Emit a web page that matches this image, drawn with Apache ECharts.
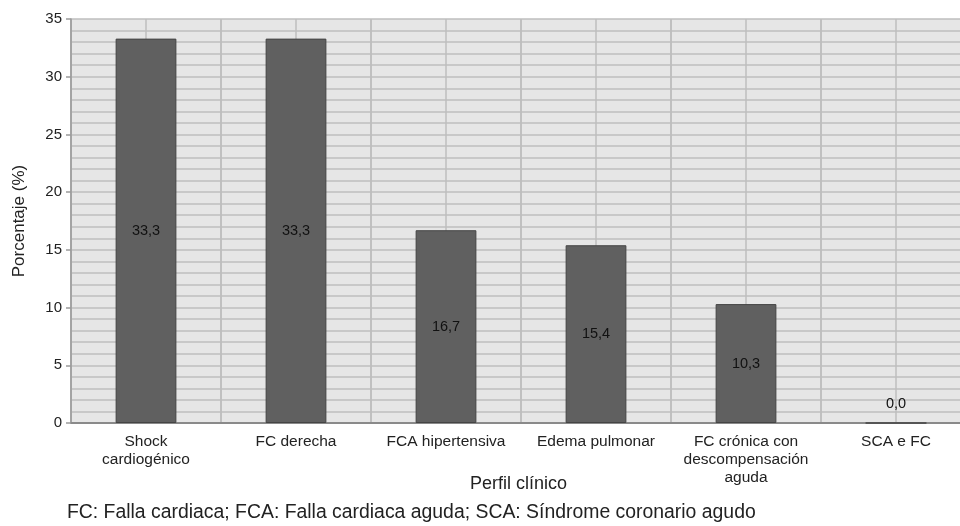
<!DOCTYPE html>
<html>
<head>
<meta charset="utf-8">
<script src="https://cdn.jsdelivr.net/npm/echarts@6/dist/echarts.min.js"></script>
<style>
  html, body { margin: 0; padding: 0; background: #fff; }
  #chart { width: 960px; height: 526px; }
</style>
</head>
<body>
<div id="chart"></div>
<script>
// Perfil clínico y porcentaje de pacientes
const categories = [
  'Shock\ncardiogénico',
  'FC derecha',
  'FCA hipertensiva',
  'Edema pulmonar',
  'FC crónica con\ndescompensación\naguda',
  'SCA e FC'
];
const porcentajes = [33.3, 33.3, 16.7, 15.4, 10.3, 0.0];
const footnote = 'FC: Falla cardiaca; FCA: Falla cardiaca aguda; SCA: Síndrome coronario agudo';

const FONT = '"Liberation Sans", Arial, Helvetica, sans-serif';
const fmt = v => v.toFixed(1).replace('.', ',');

const chart = echarts.init(document.getElementById('chart'), null, { renderer: 'canvas' });

const barData = porcentajes.map(v => {
  const item = { value: v };
  if (v === 0) {
    item.label = { position: 'top', distance: 11 };
  }
  return item;
});

const gridLine = { show: true, lineStyle: { color: '#bebebe', width: 1.5 } };

chart.setOption({
  animation: false,
  textStyle: { fontFamily: FONT },
  grid: { left: 71, width: 900, top: 19, bottom: 103, containLabel: false,
          outerBoundsMode: 'none',
          show: true, backgroundColor: '#e6e6e6', borderWidth: 0 },
  xAxis: [
    {
      type: 'category',
      data: categories,
      name: 'Perfil clínico',
      nameLocation: 'middle',
      nameGap: 52,
      nameMoveOverlap: false,
      nameTextStyle: { fontSize: 18, color: '#222', fontFamily: FONT, padding: [0, 5, 0, 0] },
      axisLine: { show: true, lineStyle: { color: '#8a8a8a', width: 2 } },
      axisTick: { show: false },
      axisLabel: { fontSize: 15.5, color: '#222', lineHeight: 18, margin: 10, interval: 0, fontFamily: FONT },
      splitLine: gridLine
    },
    {
      // half-category grid lines
      type: 'value',
      min: 0, max: 6, interval: 0.5,
      position: 'bottom',
      axisLine: { show: false },
      axisTick: { show: false },
      axisLabel: { show: false },
      splitLine: gridLine
    }
  ],
  yAxis: {
    type: 'value',
    min: 0, max: 35, interval: 5,
    name: 'Porcentaje (%)',
    nameLocation: 'middle',
    nameGap: 43,
    nameMoveOverlap: false,
    nameTextStyle: { fontSize: 17, color: '#222', fontFamily: FONT },
    axisLine: { show: true, lineStyle: { color: '#9a9a9a', width: 1.5 } },
    axisTick: { show: true, length: 5, lineStyle: { color: '#9a9a9a', width: 1.5 } },
    axisLabel: { fontSize: 15, color: '#222', margin: 9, fontFamily: FONT },
    splitLine: gridLine,
    minorTick: { show: false, splitNumber: 5 },
    minorSplitLine: gridLine
  },
  series: [{
    type: 'bar',
    xAxisIndex: 0,
    data: barData,
    barWidth: '40.5%',
    itemStyle: { color: '#606060', borderColor: '#444', borderWidth: 1 },
    label: {
      show: true,
      position: 'inside',
      formatter: p => fmt(p.value),
      fontSize: 14.5,
      color: '#111',
      fontFamily: FONT
    }
  }],
  graphic: [{
    type: 'text',
    left: 67,
    top: 503,
    style: { text: footnote, fontSize: 19.4, fill: '#222', fontFamily: FONT }
  }]
});
</script>
</body>
</html>
